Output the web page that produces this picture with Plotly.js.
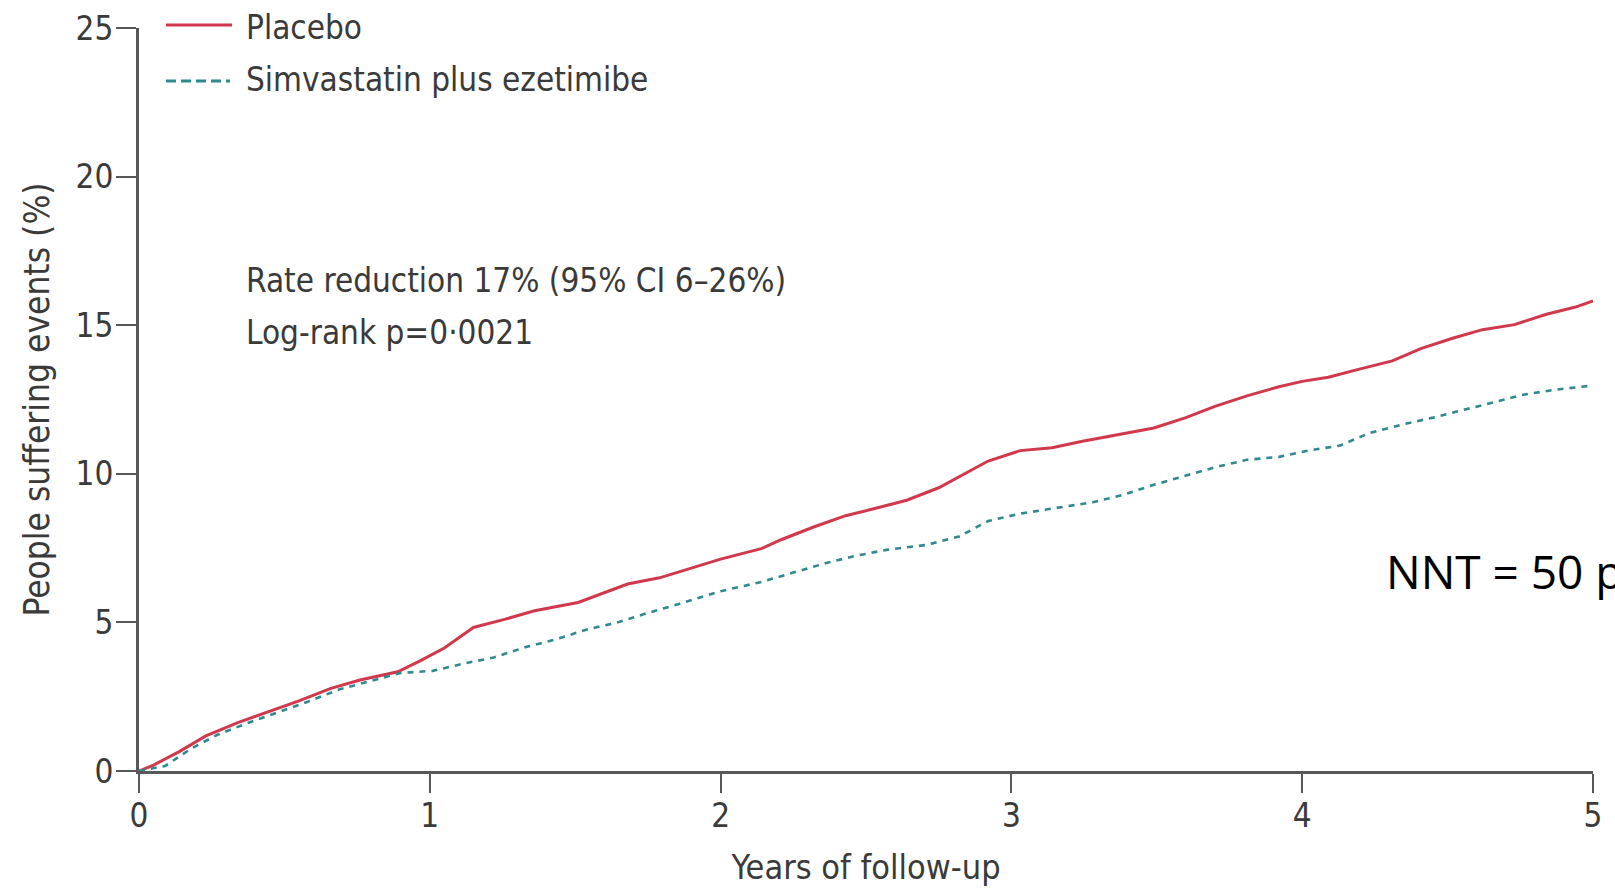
<!DOCTYPE html>
<html>
<head>
<meta charset="utf-8">
<script src="https://cdn.plot.ly/plotly-3.0.1.min.js"></script>
<style>
  html, body { margin: 0; padding: 0; background: #ffffff; }
  #chart { width: 1615px; height: 889px; }
</style>
</head>
<body>
<div id="chart"></div>
<script>
// Years of follow-up
var placeboYears = [0, 0.05, 0.14, 0.23, 0.34, 0.44, 0.55, 0.66, 0.76, 0.89, 0.97, 1.05, 1.15, 1.26, 1.36, 1.51, 1.61, 1.68, 1.79, 1.90, 2.00, 2.14, 2.21, 2.32, 2.43, 2.53, 2.64, 2.75, 2.83, 2.92, 3.03, 3.14, 3.24, 3.38, 3.49, 3.60, 3.70, 3.81, 3.92, 4.00, 4.09, 4.20, 4.31, 4.41, 4.52, 4.62, 4.73, 4.84, 4.94, 5.00];
// People suffering events (%) - Placebo
var placeboEvents = [0, 0.2, 0.66, 1.18, 1.63, 1.98, 2.36, 2.78, 3.06, 3.34, 3.72, 4.14, 4.83, 5.11, 5.39, 5.67, 6.05, 6.29, 6.50, 6.82, 7.13, 7.48, 7.79, 8.21, 8.59, 8.83, 9.11, 9.53, 9.94, 10.43, 10.78, 10.88, 11.09, 11.34, 11.54, 11.89, 12.27, 12.62, 12.93, 13.11, 13.25, 13.53, 13.80, 14.22, 14.57, 14.85, 15.02, 15.37, 15.61, 15.82];

var simEzeYears = [0, 0.09, 0.18, 0.27, 0.37, 0.48, 0.58, 0.69, 0.80, 0.90, 1.01, 1.12, 1.22, 1.33, 1.44, 1.54, 1.65, 1.75, 1.86, 2.00, 2.14, 2.25, 2.36, 2.46, 2.57, 2.71, 2.82, 2.92, 3.03, 3.14, 3.28, 3.38, 3.49, 3.60, 3.70, 3.81, 3.92, 4.02, 4.13, 4.23, 4.34, 4.45, 4.55, 4.66, 4.76, 4.87, 5.00];
// People suffering events (%) - Simvastatin plus ezetimibe
var simEzeEvents = [0, 0.17, 0.76, 1.22, 1.60, 1.98, 2.33, 2.75, 3.03, 3.30, 3.37, 3.62, 3.82, 4.17, 4.45, 4.76, 5.01, 5.32, 5.63, 6.05, 6.36, 6.68, 6.99, 7.23, 7.44, 7.61, 7.89, 8.41, 8.66, 8.83, 9.04, 9.28, 9.63, 9.94, 10.22, 10.47, 10.57, 10.78, 10.95, 11.37, 11.65, 11.89, 12.13, 12.41, 12.66, 12.83, 12.97];

var seriesNames = ["Placebo", "Simvastatin plus ezetimibe"];
var xTicks = [0, 1, 2, 3, 4, 5];
var yTicks = [0, 5, 10, 15, 20, 25];
var statsLines = ["Rate reduction 17% (95% CI 6–26%)", "Log-rank p=0·0021"];
var nntText = "NNT = 50 patients";

var red = "#d2384c";
var teal = "#2f8a8e";
var axisCol = "#585858";
var textCol = "#3a3a3a";
var narrow = "'Liberation Sans Narrow', 'DejaVu Sans Condensed', sans-serif";

var traces = [
  {
    x: placeboYears, y: placeboEvents, name: seriesNames[0],
    type: "scatter", mode: "lines",
    line: { color: red, width: 3 }
  },
  {
    x: simEzeYears, y: simEzeEvents, name: seriesNames[1],
    type: "scatter", mode: "lines",
    line: { color: teal, width: 2.6, dash: "6px,6px" }
  }
];

// plot area in pixels: x 139..1593, y 28..771
var L = 139, R = 22, T = 28, B = 118;
var W = 1615 - L - R, H = 889 - T - B;
function px(p) { return (p - L) / W; }
function py(p) { return (889 - B - p) / H; }

var layout = {
  width: 1615, height: 889,
  margin: { l: L, r: R, t: T, b: B, pad: 0 },
  paper_bgcolor: "#ffffff", plot_bgcolor: "#ffffff",
  showlegend: false,
  font: { family: narrow, color: textCol, size: 33 },
  xaxis: {
    range: [0, 5], tickvals: xTicks, ticktext: xTicks.map(String),
    ticks: "outside", ticklen: 19, tickwidth: 2, tickcolor: axisCol,
    ticklabelstandoff: -6,
    showline: true, linecolor: axisCol, linewidth: 3,
    showgrid: false, zeroline: false, fixedrange: true,
    tickfont: { family: narrow, size: 33, color: textCol },
    title: { text: "Years of follow-up", font: { family: narrow, size: 34, color: textCol }, standoff: 22 },
    automargin: false
  },
  yaxis: {
    range: [0, 25], tickvals: yTicks, ticktext: yTicks.map(String),
    ticks: "outside", ticklen: 20, tickwidth: 2, tickcolor: axisCol,
    ticklabelstandoff: -4,
    showline: true, linecolor: axisCol, linewidth: 3,
    showgrid: false, zeroline: false, fixedrange: true,
    tickfont: { family: narrow, size: 33, color: textCol },
    title: { text: "People suffering events (%)", font: { family: narrow, size: 35, color: textCol }, standoff: 16 },
    automargin: false
  },
  shapes: [
    { type: "line", xref: "paper", yref: "paper", x0: px(166), x1: px(232), y0: py(25), y1: py(25),
      line: { color: red, width: 3 } },
    { type: "line", xref: "paper", yref: "paper", x0: px(166), x1: px(230), y0: py(81), y1: py(81),
      line: { color: teal, width: 3, dash: "10px,5px" } }
  ],
  annotations: [
    { xref: "paper", yref: "paper", x: px(244), y: py(27), xanchor: "left", yanchor: "middle",
      text: seriesNames[0], showarrow: false, font: { family: narrow, size: 33, color: textCol } },
    { xref: "paper", yref: "paper", x: px(244), y: py(79), xanchor: "left", yanchor: "middle",
      text: seriesNames[1], showarrow: false, font: { family: narrow, size: 33, color: textCol } },
    { xref: "paper", yref: "paper", x: px(244), y: py(280), xanchor: "left", yanchor: "middle",
      text: statsLines[0], showarrow: false, font: { family: narrow, size: 33, color: textCol } },
    { xref: "paper", yref: "paper", x: px(244), y: py(332), xanchor: "left", yanchor: "middle",
      text: statsLines[1], showarrow: false, font: { family: narrow, size: 33, color: textCol } },
    { xref: "paper", yref: "paper", x: px(1384), y: py(571), xanchor: "left", yanchor: "middle",
      text: nntText, showarrow: false, font: { family: "'Open Sans', 'Noto Sans', sans-serif", size: 46, color: "#000000" } }
  ]
};

Plotly.newPlot("chart", traces, layout, { displayModeBar: false, staticPlot: true });
</script>
</body>
</html>
